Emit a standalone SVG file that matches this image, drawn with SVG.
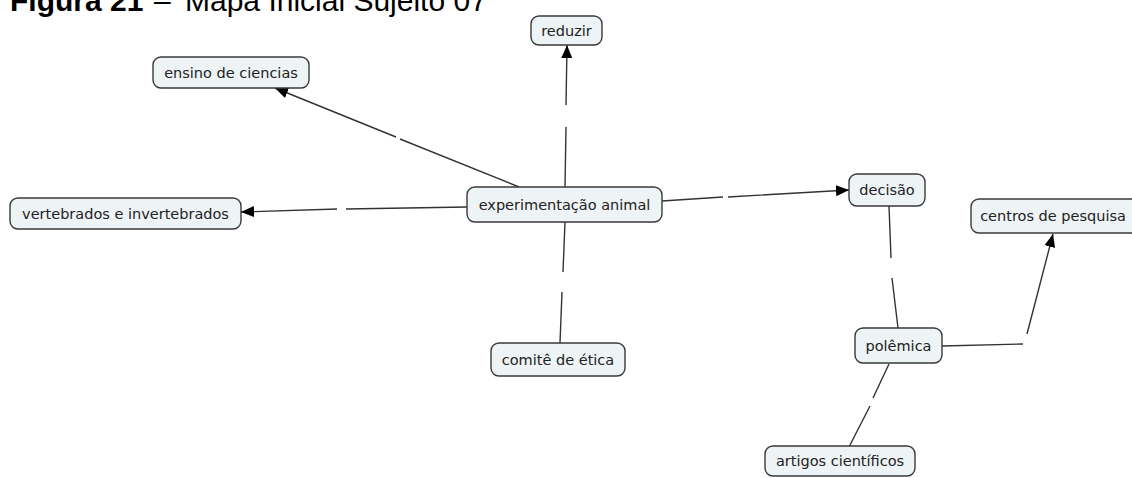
<svg xmlns="http://www.w3.org/2000/svg" width="1132" height="478" viewBox="0 0 1132 478">
<style>
.n rect{fill:#eef3f6;stroke:#3a3a3a;stroke-width:1.4}
.n text{font-family:"DejaVu Sans",Verdana,sans-serif;font-size:14.5px;fill:#222;text-anchor:middle;dominant-baseline:central}
.c path{fill:none;stroke:#333;stroke-width:1.4}
.t{font-family:"Liberation Sans",Arial,sans-serif;font-size:30px;fill:#000}
</style>
<defs>
<marker id="ah" viewBox="0 0 13 11" refX="13" refY="5.5" markerWidth="13" markerHeight="11" markerUnits="userSpaceOnUse" orient="auto">
<path d="M0,0L13,5.5L0,11Z" fill="#000"/>
</marker>
</defs>
<rect width="1132" height="478" fill="#fff"/>
<text class="t" x="10" y="11"><tspan font-weight="bold">Figura 21</tspan><tspan x="154">–</tspan><tspan x="185">Mapa Inicial Sujeito 07</tspan></text>
<g class="c" id="connectors">
<path d="M519,187L400,139M396,137L275,88" marker-end="url(#ah)"/>
<path d="M565,187L566,127M566,105L567,45" marker-end="url(#ah)"/>
<path d="M467,207L346,209M337,209L241,212" marker-end="url(#ah)"/>
<path d="M662,201L723,197M728,197L849,190" marker-end="url(#ah)"/>
<path d="M565,222L563,272M562,292L560,343"/>
<path d="M889,206L891,258M892,278L898,328"/>
<path d="M942,346L1023,344M1027,334L1053,234" marker-end="url(#ah)"/>
<path d="M889,364L873,398M870,406L849,447"/>
</g>
<g class="n" id="n-reduzir"><rect x="531" y="16" width="71" height="29" rx="8"/><text x="566.5" y="30.5">reduzir</text></g>
<g class="n" id="n-ensino"><rect x="153" y="57" width="156" height="31" rx="8"/><text x="231" y="72.5">ensino de ciencias</text></g>
<g class="n" id="n-experimentacao"><rect x="467" y="187" width="195" height="35" rx="8"/><text x="564.5" y="204.5">experimentação animal</text></g>
<g class="n" id="n-vertebrados"><rect x="10" y="198" width="231" height="31" rx="8"/><text x="125.5" y="213.5">vertebrados e invertebrados</text></g>
<g class="n" id="n-comite"><rect x="491" y="343" width="134" height="33" rx="8"/><text x="558" y="359.5">comitê de ética</text></g>
<g class="n" id="n-decisao"><rect x="849" y="174" width="76" height="32" rx="8"/><text x="887" y="190">decisão</text></g>
<g class="n" id="n-centros"><rect x="971" y="199" width="170" height="34" rx="8"/><text x="1053" y="216">centros de pesquisa</text></g>
<g class="n" id="n-polemica"><rect x="855" y="328" width="87" height="35" rx="8"/><text x="898.5" y="345.5">polêmica</text></g>
<g class="n" id="n-artigos"><rect x="765" y="446" width="150" height="30" rx="8"/><text x="840" y="461">artigos científicos</text></g>
</svg>
